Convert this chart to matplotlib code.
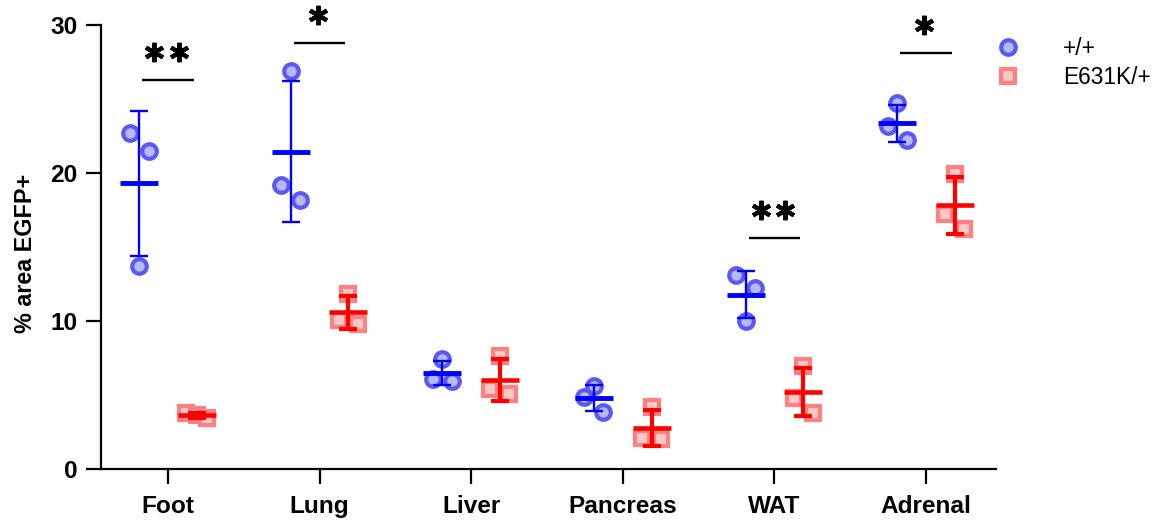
import numpy as np
import matplotlib
matplotlib.use('Agg')
import matplotlib.pyplot as plt
from matplotlib.lines import Line2D
from matplotlib.transforms import offset_copy

# ---------------- data ----------------
categories = ['Foot', 'Lung', 'Liver', 'Pancreas', 'WAT', 'Adrenal']
series_labels = ['+/+', 'E631K/+']
wt_values = [[22.7, 21.5, 13.7], [26.9, 19.2, 18.2], [7.45, 6.1, 5.95],
             [5.6, 4.85, 3.85], [13.1, 12.25, 10.0], [24.7, 23.2, 22.2]]
mut_values = [[3.8, 3.65, 3.45], [11.85, 10.1, 9.8], [7.65, 5.4, 5.05],
              [4.2, 2.1, 2.05], [6.95, 4.8, 3.8], [19.95, 17.25, 16.25]]
sig_labels = ['**', '*', '', '', '**', '*']
sig_heights = [26.3, 28.8, None, None, 15.6, 28.1]
yticks = [0, 10, 20, 30]

# ---------------- style ----------------
W, H, DPI = 1158, 521, 100
fig = plt.figure(figsize=(W / DPI, H / DPI), dpi=DPI)
ax = fig.add_axes([101 / W, 1 - 469 / H, (996 - 101) / W, (469 - 25) / H])
ax.set_xlim(-0.442, 5.462)
ax.set_ylim(0, 30)

for s in ['top', 'right']:
    ax.spines[s].set_visible(False)
for s in ['left', 'bottom']:
    ax.spines[s].set_linewidth(1.6)
ax.tick_params(axis='both', width=1.6, length=11, color='black')
ax.tick_params(axis='y', pad=6)
ax.tick_params(axis='x', pad=8)
ax.set_yticks(yticks)
ax.set_xticks(range(len(categories)))
ax.set_xticklabels(categories)
for lab in ax.get_xticklabels() + ax.get_yticklabels():
    lab.set_fontfamily('Liberation Sans')
    lab.set_fontweight('bold')
    lab.set_fontsize(17.6)

fig.text(26 / W, 1 - 253 / H, '% area EGFP+', rotation=90, ha='center', va='center',
         fontsize=16.8, fontweight='bold', family='Liberation Sans')

styles = [
    dict(marker='o', mfc='#b8b8ff', mec='#5a5af2', color='#0000ff', elw=1.7, cap_t=1.7, mean_lw=3.5),
    dict(marker='s', mfc='#ffc8c8', mec='#ff8080', color='#ff0000', elw=3.0, cap_t=3.0, mean_lw=3.3),
]
group_offset = 0.19

fig.canvas.draw()
x_px = ax.transData.transform([(1, 0)])[0][0] - ax.transData.transform([(0, 0)])[0][0]
y_px = ax.transData.transform([(0, 1)])[0][1] - ax.transData.transform([(0, 0)])[0][1]


def swarm_offsets(vals, thresh_px=20.0, pair_px=19.0, row_max_px=21.0):
    vals = np.asarray(vals, dtype=float)
    order = np.argsort(vals)
    offs = np.zeros(len(vals))
    i = 0
    while i < len(order):
        row = [order[i]]
        j = i + 1
        while j < len(order) and (vals[order[j]] - vals[order[i]]) * y_px < thresh_px:
            row.append(order[j])
            j += 1
        n = len(row)
        if n > 1:
            step = min(pair_px, row_max_px / (n - 1))
            row_desc = sorted(row, key=lambda k: -vals[k])
            for r, k in enumerate(row_desc):
                offs[k] = (r - (n - 1) / 2) * step
        i = j
    return offs / x_px


for si, data in enumerate([wt_values, mut_values]):
    st = styles[si]
    sign = -1 if si == 0 else 1
    for ci, vals in enumerate(data):
        xc = ci + sign * group_offset
        offs = swarm_offsets(vals)
        ax.plot(xc + offs, vals, linestyle='none', marker=st['marker'], ms=10.5, mew=3.0,
                mfc=st['mfc'], mec=st['mec'], zorder=2, clip_on=False)
        m = np.mean(vals)
        sd = np.std(vals, ddof=1)
        ax.errorbar([xc], [m], yerr=[sd], fmt='none', ecolor=st['color'], elinewidth=st['elw'],
                    capsize=6.8, capthick=st['cap_t'], zorder=3)
        ax.hlines(m, xc - 0.125, xc + 0.125, colors=st['color'], lw=st['mean_lw'], zorder=4)

# significance brackets
for ci, (lab, h) in enumerate(zip(sig_labels, sig_heights)):
    if not lab:
        continue
    ax.hlines(h, ci - 0.17, ci + 0.17, colors='black', lw=1.7, zorder=5, clip_on=False)
    n = len(lab)
    sp = 0.16
    xs = [ci - 0.01 + (k - (n - 1) / 2) * sp for k in range(n)]
    tr = offset_copy(ax.transData, fig=fig, x=0, y=28, units='dots')
    ax.plot(xs, [h] * n, linestyle='none', marker=(6, 2, 0), ms=14, mew=3.0,
            color='black', transform=tr, clip_on=False, zorder=5)

# legend
handles = [Line2D([], [], linestyle='none', marker=styles[i]['marker'], ms=10.5, mew=3.0,
                  mfc=styles[i]['mfc'], mec=styles[i]['mec']) for i in range(2)]
leg = ax.legend(handles, series_labels, loc='upper left',
                bbox_to_anchor=(997 / W, 1 - 37 / H), bbox_transform=fig.transFigure,
                frameon=False, borderaxespad=0, borderpad=0, handlelength=1.0,
                handletextpad=1.9, labelspacing=0.25,
                prop={'family': 'Liberation Sans', 'size': 16.4})

fig.savefig('out.png', dpi=DPI)
